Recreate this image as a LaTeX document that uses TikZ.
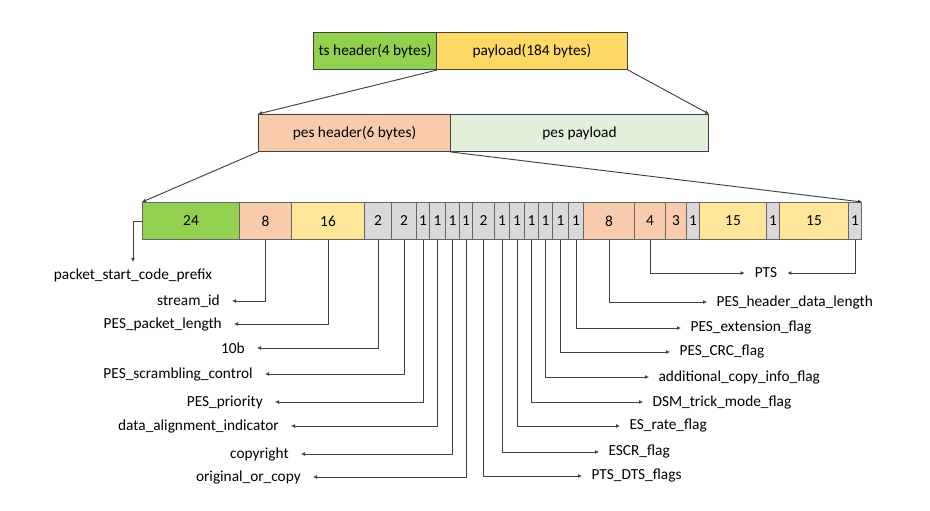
\documentclass[tikz,border=0pt]{standalone}
\usepackage{fontspec}
\setmainfont{Carlito}
\usetikzlibrary{arrows.meta}

\definecolor{hdrgreen}{RGB}{146,208,80}
\definecolor{payyellow}{RGB}{255,217,102}
\definecolor{peach}{RGB}{248,203,173}
\definecolor{lightyellow}{RGB}{255,230,153}
\definecolor{flaggray}{RGB}{217,217,217}
\definecolor{palegreen}{RGB}{226,239,218}

\tikzset{
  pkt/.style={draw=black!75, line width=0.75pt, minimum height=37*0.75pt, inner sep=0pt, anchor=north west, font=\fontsize{11.5}{13}\selectfont},
  field/.style={pkt, draw=black!60},
  conn/.style={draw=black!75, line width=0.7pt, -{Latex[length=3pt,width=3pt]}},
  lleft/.style={anchor=east, inner xsep=9pt, inner ysep=1pt, font=\fontsize{11.5}{13}\selectfont},
  lright/.style={anchor=west, inner xsep=7pt, inner ysep=1pt, font=\fontsize{11.5}{13}\selectfont}
}

\begin{document}
\begin{tikzpicture}[x=0.75pt,y=0.75pt,yscale=-1,xscale=1]
\useasboundingbox (0,0) rectangle (930,510);

% ts packet
\node [pkt, fill=hdrgreen, minimum width=123*0.75pt] (ts) at (313,32) {ts header(4 bytes)};
\node [pkt, fill=payyellow, minimum width=191*0.75pt] (pay) at (436,32) {payload(184 bytes)};

% pes packet
\node [pkt, fill=peach, minimum width=192*0.75pt] (pesh) at (258,114) {pes header(6 bytes)};
\node [pkt, fill=palegreen, minimum width=258*0.75pt] (pesp) at (450,114) {pes payload};

\draw [conn] (ts.south east) -- (pesh.north west);
\draw [conn] (pay.south east) -- (pesp.north east);

% pes header fields
\node [field, fill=hdrgreen, minimum width=97*0.75pt] (psc) at (142,202) {24};
\node [field, fill=peach, minimum width=52*0.75pt] (sid) at (239,202) {8};
\node [field, fill=lightyellow, minimum width=73*0.75pt] (plen) at (291,202) {16};
\node [field, fill=flaggray, minimum width=27*0.75pt] (ten) at (364,202) {2};
\node [field, fill=flaggray, minimum width=25*0.75pt] (scr) at (391,202) {2};
\node [field, fill=flaggray, minimum width=13*0.75pt] (pri) at (416,202) {1};
\node [field, fill=flaggray, minimum width=16*0.75pt] (dai) at (429,202) {1};
\node [field, fill=flaggray, minimum width=14*0.75pt] (cpy) at (445,202) {1};
\node [field, fill=flaggray, minimum width=13*0.75pt] (ooc) at (459,202) {1};
\node [field, fill=flaggray, minimum width=22*0.75pt] (ptsdts) at (472,202) {2};
\node [field, fill=flaggray, minimum width=15*0.75pt] (escr) at (494,202) {1};
\node [field, fill=flaggray, minimum width=15*0.75pt] (esr) at (509,202) {1};
\node [field, fill=flaggray, minimum width=14*0.75pt] (dsm) at (524,202) {1};
\node [field, fill=flaggray, minimum width=14*0.75pt] (aci) at (538,202) {1};
\node [field, fill=flaggray, minimum width=16*0.75pt] (crc) at (552,202) {1};
\node [field, fill=flaggray, minimum width=15*0.75pt] (ext) at (568,202) {1};
\node [field, fill=peach, minimum width=51*0.75pt] (hdl) at (583,202) {8};
\node [field, fill=peach, minimum width=31*0.75pt] (ptsa) at (634,202) {4};
\node [field, fill=peach, minimum width=21*0.75pt] (ptsr) at (665,202) {3};
\node [field, fill=flaggray, minimum width=13*0.75pt] (mka) at (686,202) {1};
\node [field, fill=lightyellow, minimum width=67*0.75pt] (ptsb) at (699,202) {15};
\node [field, fill=flaggray, minimum width=13*0.75pt] (mkb) at (766,202) {1};
\node [field, fill=lightyellow, minimum width=69*0.75pt] (ptsc) at (779,202) {15};
\node [field, fill=flaggray, minimum width=13*0.75pt] (mkc) at (848,202) {1};

\draw [conn] (pesh.south west) -- (psc.north west);
\draw [conn] (pesh.south east) -- (mkc.north east);

% left labels
\node [anchor=north, inner ysep=5pt, font=\fontsize{11.5}{13}\selectfont] (lpsc) at (133,262) {packet\_start\_code\_prefix};
\node [lleft] (lsid) at (232,301) {stream\_id};
\node [lleft] (lplen) at (234,324) {PES\_packet\_length};
\node [lleft] (lten) at (257,348) {10b};
\node [lleft] (lscr) at (265,374) {PES\_scrambling\_control};
\node [lleft] (lpri) at (275,402) {PES\_priority};
\node [lleft] (ldai) at (291,426) {data\_alignment\_indicator};
\node [lleft] (lcpy) at (301,454) {copyright};
\node [lleft] (looc) at (313,477) {original\_or\_copy};

% right labels
\node [lright] (lptsdts) at (582,476) {PTS\_DTS\_flags};
\node [lright] (lescr) at (599,452) {ESCR\_flag};
\node [lright] (lesr) at (620,426) {ES\_rate\_flag};
\node [lright] (ldsm) at (643,402) {DSM\_trick\_mode\_flag};
\node [lright] (laci) at (649,377) {additional\_copy\_info\_flag};
\node [lright] (lcrc) at (670,352) {PES\_CRC\_flag};
\node [lright] (lext) at (681,328) {PES\_extension\_flag};
\node [lright] (lhdl) at (707,302) {PES\_header\_data\_length};
\node [anchor=center, inner xsep=7.5pt, inner ysep=1pt, font=\fontsize{11.5}{13}\selectfont] (lpts) at (766,273) {PTS};

% field connectors
\draw [conn] (psc.west) -| (lpsc.north);
\draw [conn] (sid.south) |- (lsid.east);
\draw [conn] (plen.south) |- (lplen.east);
\draw [conn] (ten.south) |- (lten.east);
\draw [conn] (scr.south) |- (lscr.east);
\draw [conn] (pri.south) |- (lpri.east);
\draw [conn] (dai.south) |- (ldai.east);
\draw [conn] (cpy.south) |- (lcpy.east);
\draw [conn] (ooc.south) |- (looc.east);
\draw [conn] (ptsdts.south) |- (lptsdts.west);
\draw [conn] (escr.south) |- (lescr.west);
\draw [conn] (esr.south) |- (lesr.west);
\draw [conn] (dsm.south) |- (ldsm.west);
\draw [conn] (aci.south) |- (laci.west);
\draw [conn] (crc.south) |- (lcrc.west);
\draw [conn] (ext.south) |- (lext.west);
\draw [conn] (hdl.south) |- (lhdl.west);
\draw [conn] (ptsa.south) |- (lpts.west);
\draw [conn] (mkc.south) |- (lpts.east);

\end{tikzpicture}
\end{document}
